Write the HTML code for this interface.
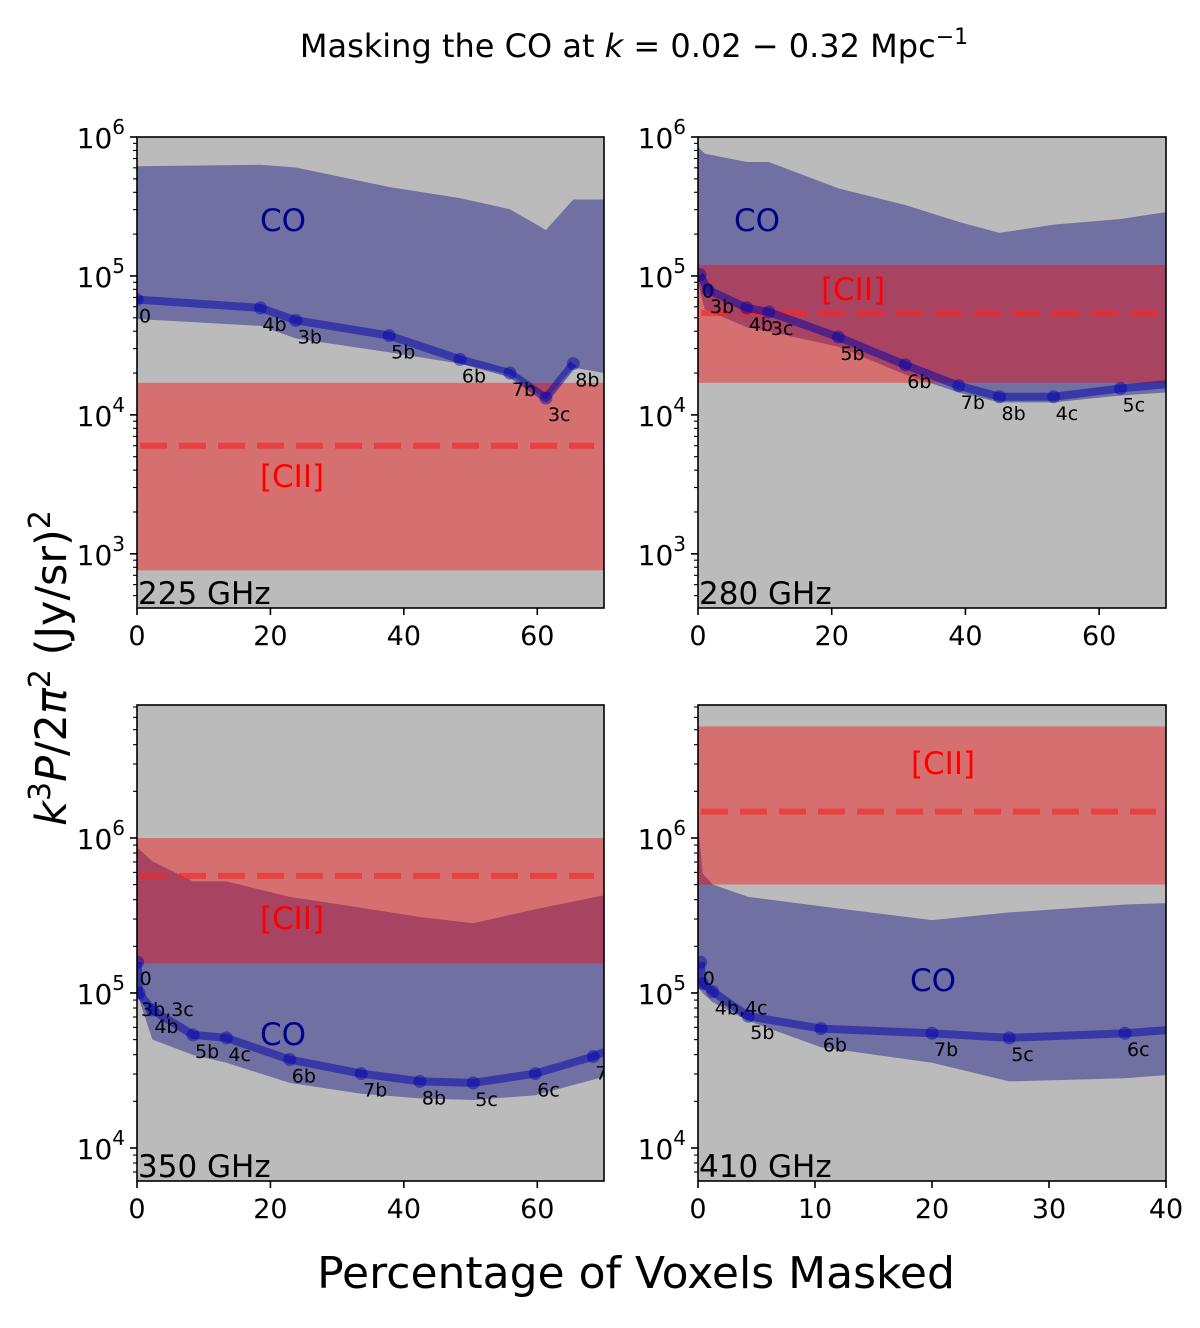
<!DOCTYPE html>
<html><head><meta charset="utf-8">
<style>
html,body{margin:0;padding:0;background:#fff;}
svg{display:block;font-family:"DejaVu Sans","Liberation Sans",sans-serif;}
</style></head>
<body>
<svg id="fig" width="1200" height="1328" viewBox="0 0 1200 1328" xmlns="http://www.w3.org/2000/svg">
<text x="634" y="57" font-size="32" text-anchor="middle">Masking the CO at <tspan font-style="italic">k</tspan> = 0.02 − 0.32 Mpc<tspan dy="-13" font-size="22">−1</tspan></text>
<text transform="translate(66,668) rotate(-90)" font-size="43" text-anchor="middle"><tspan font-style="italic">k</tspan><tspan dy="-16" font-size="30">3</tspan><tspan dy="16" font-style="italic">P</tspan>/2<tspan font-style="italic">π</tspan><tspan dy="-16" font-size="30">2</tspan><tspan dy="16"> (Jy/sr)</tspan><tspan dy="-16" font-size="30">2</tspan></text>
<text x="636" y="1288" font-size="44" text-anchor="middle">Percentage of Voxels Masked</text>
</svg>
<script>
// Panel 1 (225 GHz)
const p1PtX=[0,18.5,23.8,37.8,48.4,55.9,61.3,65.4];
const p1PtY=[67600,58900,47900,37200,25100,20000,13200,23400];
const p1Labels=["0","4b","3b","5b","6b","7b","3c","8b"];
const p1BandX=[0,18.5,23.8,37.8,48.4,55.9,61.3,65.4,70];
const p1BandUp=[616000,631000,603000,437000,363000,302000,214000,355000,355000];
const p1BandLo=[49000,43700,35500,28200,23400,19500,12900,21900,20000];
const p1CII=[760,17000,6000];
// Panel 2 (280 GHz)
const p2PtX=[0.3,1.5,7.3,10.6,21,31,39,45.1,53.2,63.2,70];
const p2PtY=[102000,79400,58900,55000,36300,22900,16200,13500,13500,15500,16600];
const p2Labels=["0","3b","4b","3c","5b","6b","7b","8b","4c","5c",null];
const p2BandX=[0,1,7.3,10.6,21,31,39,45.1,53.2,63.2,70];
const p2BandUp=[851000,759000,661000,661000,427000,324000,245000,204000,234000,257000,288000];
const p2BandLo=[89100,57500,42700,39800,30900,19500,14500,12300,12300,13800,14500];
const p2CII=[17000,120000,54000];
// Panel 3 (350 GHz)
const p3PtX=[0.1,0.3,2.3,8.4,13.4,22.9,33.6,42.4,50.4,59.7,68.4,70];
const p3PtY=[158000,100000,77600,53700,51300,37200,30200,26900,26300,30200,38900,41700];
const p3Labels=["0","3b,3c","4b","5b","4c","6b","7b","8b","5c","6c","7c",null];
const p3BandX=[0,2.3,8.4,13.4,22.9,33.6,42.4,50.4,59.7,70];
const p3BandUp=[871000,708000,525000,525000,417000,355000,309000,282000,347000,427000];
const p3BandLo=[100000,50100,39800,35500,26300,22400,20900,20400,21900,28800];
const p3CII=[155000,1000000,570000];
// Panel 4 (410 GHz)
const p4PtX=[0.23,0.4,1.26,4.3,10.5,20,26.6,36.5,40];
const p4PtY=[158000,115000,102000,70800,58900,55000,51300,55000,57500];
const p4Labels=["0","","4b,4c","5b","6b","7b","5c","6c",null];
const p4BandX=[0,0.4,1.26,4.3,10.5,20,26.6,36.5,40];
const p4BandUp=[1260000,589000,501000,417000,363000,295000,331000,372000,380000];
const p4BandLo=[110000,100000,87100,66100,44700,35500,26900,28200,29500];
const p4CII=[501000,5250000,1480000];
const xTicks12=[0,20,40,60];
const xTicks4=[0,10,20,30,40];

const NS="http://www.w3.org/2000/svg";
const svg=document.getElementById('fig');
function mk(tag,attrs,parent){const e=document.createElementNS(NS,tag);for(const k in attrs)e.setAttribute(k,attrs[k]);(parent||svg).appendChild(e);return e;}

const panels=[
 {id:1,L:137,R:604,T:137,B:608,xmax:70,ymin:Math.pow(10,2.61),ymax:1e6,px:p1PtX,py:p1PtY,lab:p1Labels,bx:p1BandX,bu:p1BandUp,bl:p1BandLo,cii:p1CII,xt:xTicks12,freq:"225 GHz",co:[283,220],ciiLab:[292,476]},
 {id:2,L:698,R:1166,T:137,B:608,xmax:70,ymin:Math.pow(10,2.61),ymax:1e6,px:p2PtX,py:p2PtY,lab:p2Labels,bx:p2BandX,bu:p2BandUp,bl:p2BandLo,cii:p2CII,xt:xTicks12,freq:"280 GHz",co:[757,220],ciiLab:[853,289]},
 {id:3,L:137,R:604,T:705,B:1181,xmax:70,ymin:Math.pow(10,3.787),ymax:Math.pow(10,6.858),px:p3PtX,py:p3PtY,lab:p3Labels,bx:p3BandX,bu:p3BandUp,bl:p3BandLo,cii:p3CII,xt:xTicks12,freq:"350 GHz",co:[283,1034],ciiLab:[292,918]},
 {id:4,L:698,R:1166,T:705,B:1181,xmax:40,ymin:Math.pow(10,3.787),ymax:Math.pow(10,6.858),px:p4PtX,py:p4PtY,lab:p4Labels,bx:p4BandX,bu:p4BandUp,bl:p4BandLo,cii:p4CII,xt:xTicks4,freq:"410 GHz",co:[933,980],ciiLab:[943,763]}
];

panels.forEach(p=>{
 const X=v=>p.L+(v/p.xmax)*(p.R-p.L);
 const lmin=Math.log10(p.ymin),lmax=Math.log10(p.ymax);
 const Y=v=>p.B-(Math.log10(v)-lmin)/(lmax-lmin)*(p.B-p.T);
 const g=mk('g',{});
 
 
 const cid='clip'+p.id;
 const cp=mk('clipPath',{id:cid},g);mk('rect',{x:p.L,y:p.T,width:p.R-p.L,height:p.B-p.T},cp);
 const bg=mk('rect',{x:p.L,y:p.T,width:p.R-p.L,height:p.B-p.T,fill:'#bbbbbb'},g);
 
 
 const c=mk('g',{'clip-path':'url(#'+cid+')'},g);
 let d='';
 p.bx.forEach((x,i)=>{d+=(i?'L':'M')+X(x)+','+Y(p.bu[i]);});
 for(let i=p.bx.length-1;i>=0;i--)d+='L'+X(p.bx[i])+','+Y(p.bl[i]);
 const coB=mk('path',{d:d+'Z',fill:'rgba(0,0,128,0.4)'},c);
 
 
 const y1=Y(p.cii[1]),y0=Y(p.cii[0]);
 const ciiB=mk('rect',{x:p.L,y:y1,width:p.R-p.L,height:y0-y1,fill:'rgba(255,0,0,0.4)'},c);
 
 
 const ym=Y(p.cii[2]);
 const dl=mk('line',{x1:p.L+3,x2:p.R-10,y1:ym,y2:ym,stroke:'rgba(240,40,40,0.65)','stroke-width':6,'stroke-dasharray':'27,12'},c);
 
 
 let ld='';
 p.px.forEach((x,i)=>{ld+=(i?'L':'M')+X(x)+','+Y(p.py[i]);});
 const ln=mk('path',{d:ld,fill:'none',stroke:'rgba(0,0,170,0.5)','stroke-width':8,'stroke-linejoin':'round'},c);
 
 
 p.px.forEach((x,i)=>{
  if(p.lab[i]===null)return;
  const m=mk('circle',{cx:X(x),cy:Y(p.py[i]),r:6.5,fill:'rgba(0,0,170,0.45)'},c);
  
  
  if(p.lab[i]){
   const t=mk('text',{x:X(x)+2,y:Y(p.py[i])+23,'font-size':19,fill:'#000'},c);
   t.textContent=p.lab[i];
   
   
  }
 });
 const coT=mk('text',{x:p.co[0],y:p.co[1]+11,'font-size':31,fill:'#00008b','text-anchor':'middle'},g);
 coT.textContent='CO';
 
 
 const ciT=mk('text',{x:p.ciiLab[0],y:p.ciiLab[1]+11,'font-size':31,fill:'#ff0000','text-anchor':'middle'},g);
 ciT.textContent='[CII]';
 
 
 const fr=mk('text',{x:p.L+1,y:p.B-4,'font-size':31,fill:'#000'},g);
 fr.textContent=p.freq;
 
 
 const fr2=mk('rect',{x:p.L,y:p.T,width:p.R-p.L,height:p.B-p.T,fill:'none',stroke:'#000','stroke-width':1.6},g);
 
 
 for(let dec=Math.floor(lmin);dec<=Math.ceil(lmax);dec++){
  for(let m=1;m<10;m++){
   const v=m*Math.pow(10,dec);const lv=Math.log10(v);
   if(lv<lmin-1e-9||lv>lmax+1e-9)continue;
   const yy=Y(v);
   mk('line',{x1:p.L,x2:p.L-(m===1?7:4),y1:yy,y2:yy,stroke:'#000','stroke-width':m===1?1.6:1.1},g);
   if(m===1){
    const t=mk('text',{x:p.L-12,y:yy+11,'font-size':28,'text-anchor':'end'},g);
    t.innerHTML='10<tspan dy="-14" font-size="20">'+dec+'</tspan>';
    
    
   }
  }
 }
 p.xt.forEach(v=>{
  const xx=X(v);
  mk('line',{x1:xx,x2:xx,y1:p.B,y2:p.B+7,stroke:'#000','stroke-width':1.6},g);
  const t=mk('text',{x:xx,y:p.B+37,'font-size':27,'text-anchor':'middle'},g);
  t.textContent=v;
  
  
 });
});
</script>
</body></html>
